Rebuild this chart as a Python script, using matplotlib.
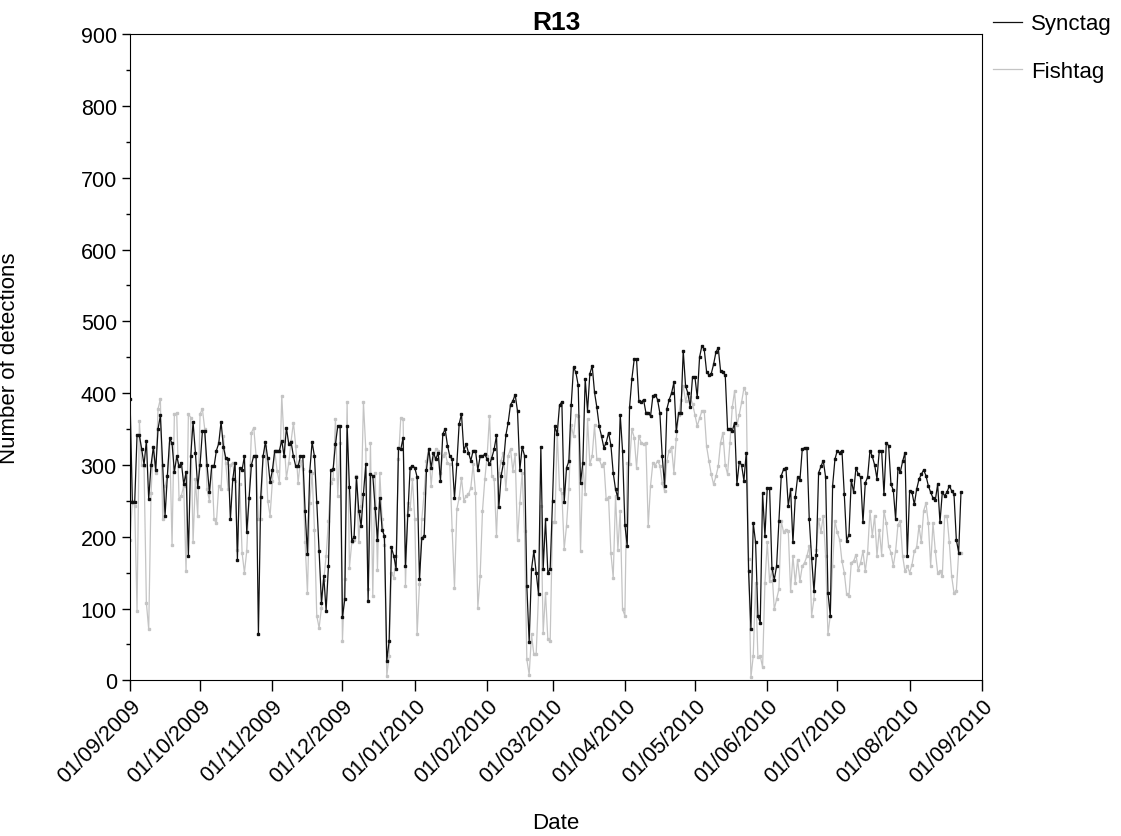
import numpy as np
import pandas as pd
import matplotlib
matplotlib.use("Agg")
import matplotlib.pyplot as plt
import matplotlib.dates as mdates
from matplotlib.ticker import MultipleLocator

plt.rcParams['font.family'] = ['Liberation Sans', 'DejaVu Sans']

# Daily detection counts, starting 01/09/2009
synctag = [
    392, 248, 248, 341, 341, 322, 300, 334, 252, 300,
    325, 293, 350, 369, 300, 229, 285, 337, 330, 290,
    312, 298, 303, 273, 290, 173, 312, 360, 317, 269,
    300, 347, 347, 300, 262, 298, 298, 320, 330, 360,
    325, 310, 308, 224, 280, 303, 168, 296, 293, 312,
    206, 254, 300, 313, 313, 64, 256, 312, 332, 309,
    276, 293, 320, 320, 320, 334, 312, 352, 329, 332,
    312, 298, 298, 312, 313, 236, 176, 291, 332, 312,
    248, 180, 108, 145, 97, 159, 293, 294, 329, 354,
    354, 88, 113, 354, 269, 194, 200, 283, 236, 215,
    260, 301, 110, 287, 285, 240, 196, 254, 210, 201,
    27, 55, 185, 173, 155, 323, 322, 338, 159, 230,
    296, 299, 296, 283, 141, 198, 201, 293, 322, 296,
    317, 308, 317, 278, 343, 350, 327, 312, 308, 254,
    301, 357, 371, 320, 329, 317, 306, 320, 320, 293,
    312, 312, 315, 308, 301, 310, 322, 341, 241, 285,
    303, 341, 359, 384, 389, 398, 375, 293, 325, 313,
    131, 53, 155, 180, 150, 120, 325, 155, 224, 150,
    155, 250, 354, 343, 383, 388, 248, 296, 305, 383,
    436, 429, 411, 275, 303, 420, 375, 427, 438, 401,
    380, 354, 340, 324, 331, 345, 328, 289, 266, 254,
    370, 320, 217, 187, 380, 420, 447, 447, 389, 387,
    391, 373, 373, 368, 396, 398, 391, 372, 312, 271,
    378, 391, 400, 415, 347, 372, 372, 459, 410, 400,
    380, 423, 423, 394, 450, 466, 461, 430, 425, 427,
    440, 457, 463, 431, 429, 425, 350, 350, 347, 359,
    273, 304, 300, 278, 317, 152, 72, 219, 192, 90,
    80, 261, 201, 268, 268, 157, 140, 159, 222, 285,
    294, 296, 243, 266, 192, 255, 283, 279, 322, 324,
    324, 224, 171, 124, 174, 289, 298, 306, 283, 122,
    90, 271, 308, 320, 317, 320, 259, 194, 203, 279,
    262, 296, 287, 283, 220, 275, 283, 320, 312, 300,
    281, 320, 320, 259, 330, 327, 273, 265, 224, 296,
    290, 305, 317, 173, 264, 262, 245, 266, 280, 287,
    293, 285, 271, 262, 254, 251, 273, 220, 262, 257,
    262, 271, 264, 259, 196, 178, 262,
]

fishtag = [
    196, 250, 243, 97, 361, 300, 298, 108, 71, 261,
    325, 289, 378, 392, 224, 270, 285, 331, 189, 371,
    372, 252, 257, 271, 152, 371, 366, 192, 280, 229,
    371, 378, 350, 266, 250, 299, 224, 219, 271, 266,
    340, 303, 266, 300, 303, 278, 182, 273, 178, 150,
    180, 254, 345, 352, 313, 224, 224, 313, 326, 250,
    229, 278, 320, 292, 275, 396, 333, 282, 303, 333,
    359, 326, 275, 306, 294, 192, 122, 247, 289, 210,
    90, 73, 101, 140, 173, 222, 275, 280, 364, 257,
    330, 55, 141, 387, 157, 192, 196, 285, 192, 243,
    387, 322, 127, 331, 117, 289, 154, 289, 224, 189,
    6, 34, 150, 143, 173, 308, 366, 364, 131, 247,
    238, 280, 224, 64, 134, 224, 261, 306, 322, 271,
    310, 322, 320, 289, 313, 317, 303, 301, 210, 129,
    238, 254, 282, 250, 257, 259, 268, 301, 261, 101,
    145, 236, 280, 313, 368, 285, 280, 201, 289, 306,
    317, 266, 313, 322, 292, 315, 196, 247, 289, 208,
    29, 8, 64, 36, 36, 120, 243, 66, 122, 57,
    55, 220, 220, 347, 266, 261, 183, 215, 266, 355,
    340, 369, 368, 180, 301, 259, 364, 301, 313, 355,
    308, 308, 299, 303, 252, 255, 178, 143, 257, 182,
    236, 99, 90, 303, 301, 350, 338, 296, 340, 331,
    329, 331, 215, 271, 303, 299, 306, 299, 275, 264,
    306, 320, 325, 289, 336, 369, 390, 410, 389, 400,
    395, 385, 370, 354, 365, 375, 375, 326, 306, 287,
    273, 284, 298, 331, 345, 300, 287, 330, 380, 403,
    355, 370, 387, 407, 400, 169, 4, 34, 136, 32,
    34, 18, 136, 192, 138, 154, 99, 113, 127, 222,
    206, 210, 208, 124, 173, 136, 168, 138, 159, 164,
    173, 187, 90, 113, 182, 224, 206, 229, 173, 64,
    90, 159, 222, 206, 196, 166, 150, 120, 117, 164,
    166, 175, 154, 164, 180, 152, 178, 236, 201, 229,
    173, 210, 175, 236, 219, 187, 178, 159, 180, 217,
    222, 173, 152, 159, 150, 161, 180, 185, 215, 192,
    236, 247, 219, 159, 219, 180, 150, 152, 145, 229,
    229, 192, 145, 122, 124, 178, 178,
]

start_date = "2009-09-01"
dates_s = pd.date_range(start_date, periods=len(synctag), freq="D")
dates_f = pd.date_range(start_date, periods=len(fishtag), freq="D")

fig = plt.figure(figsize=(11.21, 8.37), dpi=100)
ax = fig.add_axes([0.116, 0.186, 0.760, 0.772])

ax.plot(dates_f, fishtag, color="#c4c4c4", lw=0.9, marker="s", ms=2,
        label="Fishtag", zorder=2)
ax.plot(dates_s, synctag, color="#111111", lw=0.9, marker="s", ms=2,
        label="Synctag", zorder=3)

ax.set_xlim(pd.Timestamp("2009-09-01"), pd.Timestamp("2010-09-01"))
ax.set_ylim(0, 900)
ax.yaxis.set_major_locator(MultipleLocator(100))
ax.yaxis.set_minor_locator(MultipleLocator(50))
ax.xaxis.set_major_locator(mdates.MonthLocator())
ax.xaxis.set_major_formatter(mdates.DateFormatter("%d/%m/%Y"))

ax.tick_params(axis="both", which="major", labelsize=15.5, length=6, width=1)
ax.tick_params(axis="x", which="major", length=8, pad=3)
ax.tick_params(axis="y", which="minor", length=3, width=1)
for lab in ax.get_xticklabels():
    lab.set_rotation(45)
    lab.set_ha("right")
    lab.set_rotation_mode("anchor")

ax.set_title("R13", fontsize=19, fontweight="bold", pad=3)
ax.set_ylabel("Number of detections", fontsize=16)
ax.yaxis.set_label_coords(-0.129, 0.5)
ax.set_xlabel("Date", fontsize=16)
ax.xaxis.set_label_coords(0.5, -0.204)

handles, labels = ax.get_legend_handles_labels()
ax.legend(handles[::-1], labels[::-1], loc="upper left",
          bbox_to_anchor=(1.013, 1.032), frameon=False, fontsize=16,
          borderaxespad=0, borderpad=0,
          labelspacing=1.2, handlelength=1.3, handletextpad=0.4)
for h in ax.get_legend().get_lines():
    h.set_marker("")

fig.savefig("out.png", dpi=100)
